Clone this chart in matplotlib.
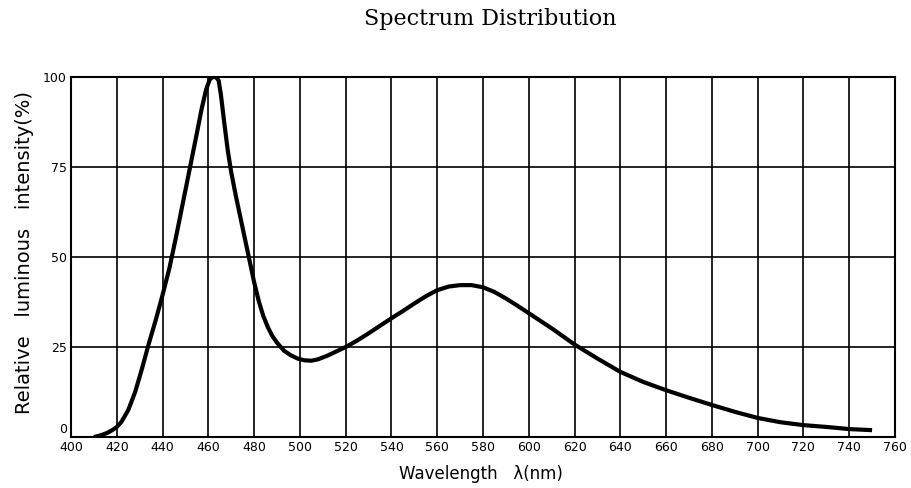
import numpy as np
import matplotlib.pyplot as plt

# values
wavelength = [410, 412, 414, 416, 418, 420, 422, 425, 428, 431, 434, 437, 440, 443,
              446, 449, 452, 455, 457, 459, 460.5, 461.5, 462.5, 463.5, 464.5, 465.5,
              467, 468.5, 470, 472, 474, 476, 478, 480, 482, 484, 486, 488, 490, 493,
              496, 499, 502, 505, 508, 512, 516, 520, 525, 530, 535, 540, 545,
              550, 555, 560, 565, 570, 575, 580, 585, 590, 595, 600, 610, 620,
              630, 640, 650, 660, 670, 680, 690, 700, 710, 720, 730, 740, 750]
intensity = [0, 0.3, 0.7, 1.2, 1.9, 2.8, 4.2, 7.5, 12.5, 19, 26, 32.5, 39.5, 47,
             56, 65.5, 75, 84.5, 91, 96.5, 99.2, 100, 100, 100, 99, 95,
             87, 79.5, 73.5, 67, 61, 55, 49, 43, 37.8, 33.6, 30.5, 28, 26.2, 24,
             22.7, 21.8, 21.3, 21.2, 21.6, 22.6, 23.8, 25, 26.8, 28.8, 30.9, 33, 35,
             37.1, 39.1, 40.8, 41.8, 42.2, 42.2, 41.6, 40.3, 38.5, 36.5, 34.4, 30.2, 25.7,
             21.8, 18.1, 15.3, 13, 10.9, 8.9, 7, 5.3, 4.1, 3.3, 2.8, 2.2, 1.9]

x_ticks = list(range(400, 761, 20))
y_ticks = [0, 25, 50, 75, 100]

fig = plt.figure(figsize=(9.11, 4.88), dpi=100)
ax = fig.add_axes([0.078, 0.1045, 0.9044, 0.7375])

ax.plot(wavelength, intensity, color='black', linewidth=3.0,
        solid_joinstyle='round', solid_capstyle='butt', zorder=3)

ax.set_xlim(400, 760)
ax.set_ylim(0, 100)
ax.set_xticks(x_ticks)
ax.set_yticks(y_ticks)
ax.set_xticklabels([str(v) for v in x_ticks], fontsize=9)
# the "0" label is drawn separately, lifted above the 400 label as in the original
ax.set_yticklabels([''] + [str(v) for v in y_ticks[1:]], fontsize=9)
ax.annotate(str(y_ticks[0]), xy=(0, y_ticks[0]), xycoords=('axes fraction', 'data'),
            xytext=(-3, 1), textcoords='offset points', ha='right', va='bottom',
            fontsize=9)
ax.tick_params(length=0, pad=3)
ax.grid(True, color='black', linewidth=1.2)
for s in ax.spines.values():
    s.set_linewidth(1.5)
    s.set_zorder(4)

fig.text(0.538, 0.962, 'Spectrum Distribution', family='DejaVu Serif',
         fontsize=16, ha='center', va='center')
fig.text(0.528, 0.028, 'Wavelength   \u03bb(nm)', fontsize=12, ha='center', va='center')
fig.text(0.027, 0.483, 'Relative   luminous   intensity(%)', fontsize=14,
         rotation=90, ha='center', va='center')

plt.savefig('out.png', dpi=100)
